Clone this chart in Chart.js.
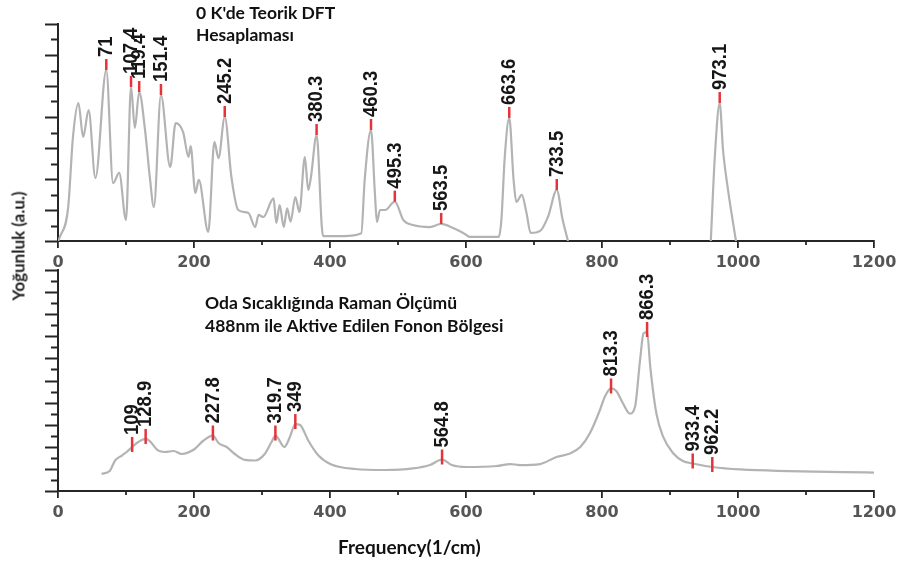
<!DOCTYPE html>
<html>
<head>
<meta charset="utf-8">
<script src="https://cdn.jsdelivr.net/npm/chart.js@4.4.1/dist/chart.umd.min.js"></script>
<style>
  body { margin: 0; background: #fff; width: 905px; height: 563px; position: relative; overflow: hidden; }
  #topWrap { position: absolute; left: 0; top: 0; }
  #botWrap { position: absolute; left: 0; top: 262px; }
  #yTitle {
    position: absolute; left: 18px; top: 246px;
    transform: translate(-50%, -50%) rotate(-90deg);
    font: bold 17px Lato, sans-serif; color: #1e1e1e; white-space: nowrap;
  }
</style>
</head>
<body>
<div id="topWrap"><canvas id="dftChart" width="905" height="275"></canvas></div>
<div id="botWrap"><canvas id="ramanChart" width="905" height="301"></canvas></div>
<div id="yTitle">Yoğunluk (a.u.)</div>

<script>
// DFT spectrum at 0 K (wavenumber, intensity in tick units)
const dftX = [0, 3, 15, 22, 30, 37, 45, 55, 71, 81, 90, 100, 107.4, 113, 119.4, 128, 135, 141, 151.4,
  165, 173, 184, 192, 195, 202, 207, 221, 230, 236, 245.2, 255, 265, 280, 290, 295, 302, 317, 321, 326,
  332, 337, 342, 349, 355, 363, 368, 372, 380.3, 388, 390, 420, 446, 451, 460.3, 466, 469, 473.5, 481,
  495.3, 508, 522, 547, 563.5, 581, 596, 606, 648, 652, 657, 663.6, 670, 674, 682, 689, 695, 709, 721,
  733.5, 742, 750, 855, 960, 966, 973.1, 978, 985, 997];
const dftY = [0, 0.28, 2.19, 6.71, 8.9, 6.71, 8.45, 4.06, 11.03, 3.74, 4.39, 1.35, 9.94, 7.29, 9.61, 7.16, 4.13, 2.19, 9.42,
  4.77, 7.61, 7.03, 5.42, 6.13, 3.10, 3.94, 0.58, 6.39, 5.35, 8.0, 4.13, 2.0, 1.81, 0.9, 1.68, 1.55, 2.75, 1.16, 2.32,
  0.9, 2.11, 1.25, 2.84, 1.87, 5.42, 3.29, 4.13, 6.84, 0.9, 0.32, 0.32, 0.5, 3.94, 7.16, 3.1, 1.23, 2.0, 2.0,
  2.54, 1.35, 1.03, 0.9, 1.10, 0.84, 0.52, 0.26, 0.26, 1.35, 5.42, 7.94, 3.94, 2.52, 2.97, 1.81, 0.52, 0.65, 1.61,
  3.29, 1.4, 0, null, 0, 5.5, 8.9, 5.87, 3.4, 0];
const dftPeaks = [71, 107.4, 119.4, 151.4, 245.2, 380.3, 460.3, 495.3, 563.5, 663.6, 733.5, 973.1];

// room temperature Raman spectrum, 488 nm excitation
const ramanX = [64, 76, 84, 94, 101, 109, 118, 128.9, 135, 147, 157, 170, 182, 201, 214, 227.8, 236, 248, 260,
  275, 290, 304, 314, 319.7, 333, 341, 349, 356, 368, 383, 402, 437, 481, 522, 547, 564.8, 579, 601, 645,
  665, 679, 709, 733, 753, 768, 782, 797, 804, 813.3, 821, 831, 841, 848.5, 856, 861, 866.3, 871, 880, 890,
  905, 919, 933.4, 962.2, 1003, 1200];
const ramanY = [1.54, 1.81, 2.76, 3.21, 3.53, 3.98, 4.43, 4.71, 4.52, 3.67, 3.53, 3.62, 3.35, 3.80, 4.57, 5.02, 4.34, 3.98, 3.35,
  2.81, 2.76, 3.35, 4.43, 5.02, 3.98, 4.89, 6.06, 5.97, 4.57, 3.21, 2.40, 1.99, 1.90, 2.04, 2.35, 2.85, 2.35, 2.17, 2.26,
  2.44, 2.35, 2.44, 3.08, 3.39, 3.98, 5.2, 7.33, 8.51, 9.28, 9.05, 7.92, 7.01, 7.60, 11.86, 14.25, 14.39, 11.22, 7.01, 4.89,
  3.39, 2.71, 2.49, 2.17, 1.95, 1.67];
const ramanPeaks = [109, 128.9, 227.8, 319.7, 349, 564.8, 813.3, 866.3, 933.4, 962.2];

const xTicks = [0, 200, 400, 600, 800, 1000, 1200];

const AXIS = '#262626';

// red marker + rotated wavenumber label on each listed peak
const peakMarks = {
  id: 'peakMarks',
  afterDatasetsDraw(chart, args, opts) {
    const { ctx, scales: { x, y } } = chart;
    const pts = chart.data.datasets[0].data;
    ctx.save();
    opts.peaks.forEach(p => {
      const pt = pts.find(d => d.x === p);
      const px = x.getPixelForValue(p);
      const py = y.getPixelForValue(pt.y);
      ctx.strokeStyle = '#e4343a';
      ctx.lineWidth = 2.5;
      ctx.beginPath();
      ctx.moveTo(px, py + opts.below);
      ctx.lineTo(px, py - opts.above);
      ctx.stroke();
      ctx.save();
      ctx.translate(px, py - opts.above - 2);
      ctx.rotate(-Math.PI / 2);
      ctx.scale(0.88, 1);
      ctx.font = 'bold 21px "Liberation Sans", Arial, sans-serif';
      ctx.fillStyle = '#161616';
      ctx.textAlign = 'left';
      ctx.textBaseline = 'middle';
      ctx.fillText(String(p), 0, 0);
      ctx.restore();
    });
    ctx.restore();
  }
};

// long/short ticks on the y axis and small minor ticks on x
const axisTicks = {
  id: 'axisTicks',
  afterDraw(chart) {
    const { ctx, scales: { x, y } } = chart;
    ctx.save();
    ctx.strokeStyle = AXIS;
    ctx.lineWidth = 1.8;
    ctx.beginPath();
    for (let i = y.min; i <= y.max; i++) {
      const py = Math.round(y.getPixelForValue(i)) + 0.5;
      const len = i % 2 === 0 ? 13 : 7;
      ctx.moveTo(x.left - len, py);
      ctx.lineTo(x.left, py);
    }
    for (let v = 100; v < 1200; v += 200) {
      const px = x.getPixelForValue(v);
      ctx.moveTo(px, y.bottom);
      ctx.lineTo(px, y.bottom + 4);
    }
    ctx.stroke();
    ctx.restore();
  }
};

// bold caption lines inside each panel (and the axis caption under the lower one)
const captions = {
  id: 'captions',
  afterDraw(chart, args, opts) {
    const { ctx } = chart;
    ctx.save();
    ctx.fillStyle = '#111';
    ctx.textAlign = 'left';
    ctx.textBaseline = 'alphabetic';
    opts.items.forEach(it => {
      ctx.font = 'bold ' + it.size + 'px Lato, sans-serif';
      it.lines.forEach((t, i) => ctx.fillText(t, it.left, it.top + i * it.gap));
    });
    ctx.restore();
  }
};

function makeChart(id, xs, ys, yMax, pad, xHeight, peaks, markOpts, items) {
  const data = xs.map((v, i) => ({ x: v, y: ys[i] }));
  return new Chart(document.getElementById(id), {
    type: 'line',
    data: {
      datasets: [{
        data,
        borderColor: '#b3b3b3',
        borderWidth: 2.2,
        pointRadius: 0,
        cubicInterpolationMode: 'monotone',
        spanGaps: false
      }]
    },
    options: {
      responsive: false,
      animation: false,
      devicePixelRatio: 1,
      layout: { padding: pad },
      plugins: {
        legend: { display: false },
        tooltip: { enabled: false },
        peakMarks: Object.assign({ peaks }, markOpts),
        captions: { items }
      },
      scales: {
        x: {
          type: 'linear',
          min: 0, max: 1200,
          afterBuildTicks: s => { s.ticks = xTicks.map(v => ({ value: v })); },
          ticks: {
            color: '#555',
            font: { family: 'DejaVu Sans', size: 16, weight: 'bold' },
            padding: 5,
            maxRotation: 0,
            callback: v => String(v)
          },
          grid: { drawOnChartArea: false, tickLength: 7, color: AXIS, lineWidth: 1.8 },
          border: { color: AXIS, width: 2 },
          afterFit: s => { s.height = xHeight; }
        },
        y: {
          min: 0, max: yMax,
          ticks: { display: false },
          grid: { drawOnChartArea: false, drawTicks: false },
          border: { color: AXIS, width: 2 },
          afterFit: s => { s.width = 58; }
        }
      }
    },
    plugins: [peakMarks, axisTicks, captions]
  });
}

makeChart('dftChart', dftX, dftY, 14, { top: 24, right: 31, left: 0, bottom: 0 }, 34,
  dftPeaks, { above: 11, below: 0 },
  [{ lines: ["0 K'de Teorik DFT", 'Hesaplaması'], left: 196, top: 19, gap: 22, size: 17.5 }]);

makeChart('ramanChart', ramanX, ramanY, 20, { top: 8, right: 31, left: 0, bottom: 0 }, 72,
  ramanPeaks, { above: 10, below: 5 },
  [{ lines: ['Oda Sıcaklığında Raman Ölçümü', '488nm ile Aktive Edilen Fonon Bölgesi'], left: 205, top: 47, gap: 23, size: 17.5 },
   { lines: ['Frequency(1/cm)'], left: 338, top: 292, gap: 0, size: 19 }]);
</script>
</body>
</html>
